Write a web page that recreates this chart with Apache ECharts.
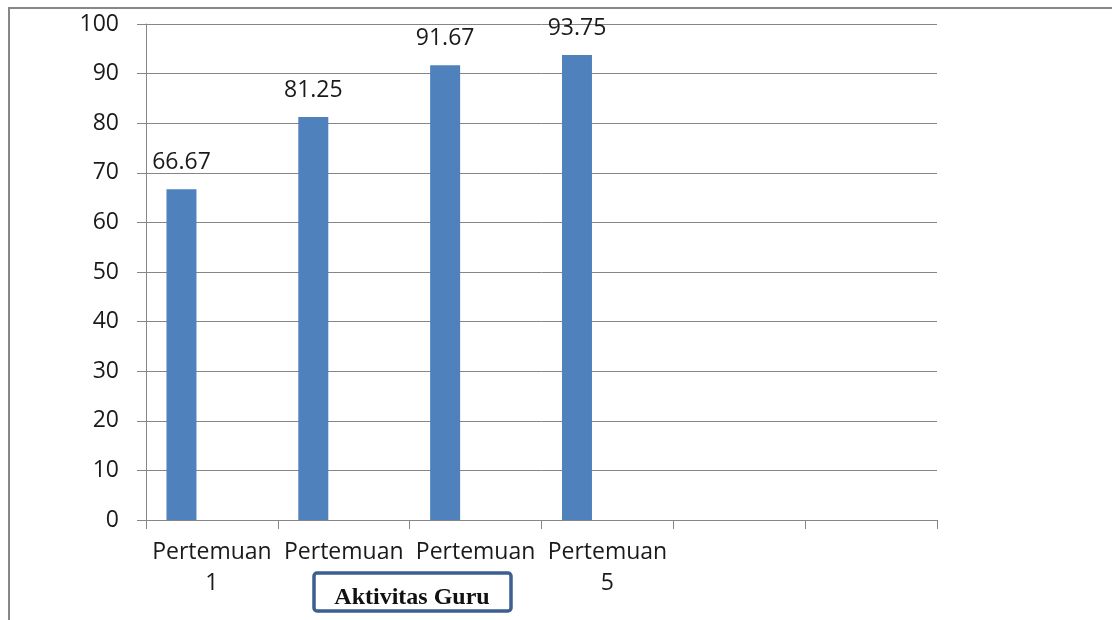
<!DOCTYPE html>
<html>
<head>
<meta charset="utf-8">
<script src="https://cdn.jsdelivr.net/npm/echarts@6/dist/echarts.min.js"></script>
<style>
html,body{margin:0;padding:0;background:#fff;}
#c{width:1112px;height:620px;}
</style>
</head>
<body>
<div id="c"></div>
<script>
const categories = ['Pertemuan\n1', 'Pertemuan', 'Pertemuan', 'Pertemuan\n5', '', ''];
const values = [66.67, 81.25, 91.67, 93.75, null, null];
const emptySlot = [null, null, null, null, null, null];
const boxTitle = 'Aktivitas Guru';

const chart = echarts.init(document.getElementById('c'), null, {renderer: 'canvas'});
const gridColor = '#868686';
const font = 'Open Sans';
chart.setOption({
  animation: false,
  backgroundColor: '#ffffff',
  grid: {left: 146, right: 175, top: 24, bottom: 100, containLabel: false},
  xAxis: {
    type: 'category',
    data: categories,
    boundaryGap: true,
    axisLine: {show: true, lineStyle: {color: gridColor, width: 1}},
    axisTick: {show: true, length: 9, alignWithLabel: false, lineStyle: {color: gridColor}},
    axisLabel: {interval: 0, fontFamily: font, fontSize: 23, lineHeight: 31, margin: 17, color: '#1a1a1a'}
  },
  yAxis: {
    type: 'value',
    min: 0, max: 100, interval: 10,
    axisLine: {show: true, lineStyle: {color: gridColor, width: 1}},
    axisTick: {show: true, length: 9, lineStyle: {color: gridColor}},
    splitLine: {show: true, lineStyle: {color: gridColor, width: 1}},
    axisLabel: {fontFamily: font, fontSize: 23, margin: 27, color: '#1a1a1a'}
  },
  series: [{
    type: 'bar',
    data: values,
    barWidth: 30,
    barGap: '103%',
    itemStyle: {color: '#4f81bd'},
    label: {
      show: true, position: 'top', distance: 15,
      fontFamily: font, fontSize: 23, color: '#1a1a1a',
      formatter: p => p.value == null ? '' : p.value.toFixed(2)
    }
  }, {
    type: 'bar',
    data: emptySlot,
    barWidth: 30,
    barGap: '103%',
    itemStyle: {color: '#c0504d'}
  }],
  graphic: [
    {type: 'rect', z: 100, silent: true,
     shape: {x: 9, y: 8, width: 1300, height: 800},
     style: {fill: 'none', stroke: '#878787', lineWidth: 2}},
    {type: 'rect', z: 101, silent: true,
     shape: {x: 314, y: 573, width: 197, height: 38, r: 3},
     style: {fill: '#ffffff', stroke: '#3b5f8e', lineWidth: 3.5}},
    {type: 'text', z: 102, silent: true, x: 412, y: 598,
     style: {text: boxTitle, fill: '#111111', font: 'bold 24px "Liberation Serif", "Times New Roman", serif',
             align: 'center', verticalAlign: 'middle'}}
  ]
});
</script>
</body>
</html>
